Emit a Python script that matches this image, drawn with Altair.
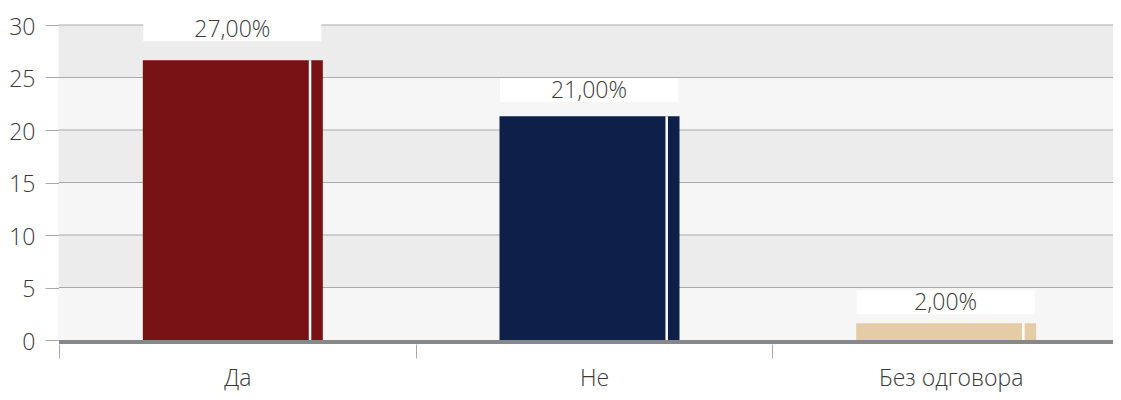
import altair as alt
import pandas as pd

categories = ["Да", "Не", "Без одговора"]
bar_values = [26.65, 21.3, 1.6]
label_texts = ["27,00%", "21,00%", "2,00%"]
label_pos = [29.6, 23.8, 3.6]
bar_colors = ["#781214", "#0e1f4a", "#e4cca6"]
y_ticks = [0, 5, 10, 15, 20, 25, 30]
band_starts = [0, 5, 10, 15, 20, 25]
band_fills = ["#f6f6f6", "#ececec", "#f6f6f6", "#ececec", "#f6f6f6", "#ececec"]

W = 1054
XR = 1070
H = 315
FONT = "Open Sans"
TXT = "#3a3a3a"
GRID = "#a9a9a9"
FS = 23

df = pd.DataFrame({"cat": categories, "v": bar_values, "lab": label_texts, "lp": label_pos})
bands = pd.DataFrame({"y0": band_starts, "y1": [b + 5 for b in band_starts], "fill": band_fills})
grid = pd.DataFrame({"t": y_ticks[1:]})

yscale = alt.Scale(domain=[0, 30], nice=False, zero=True)
yaxis = alt.Axis(values=y_ticks, title=None, grid=False, labelFontSize=FS, labelFont=FONT,
                 labelFontWeight=300, labelColor=TXT, tickColor=GRID, tickSize=14,
                 domainColor="#bdbdbd", domainWidth=1.2, labelPadding=10, labelOffset=2)
xscale = alt.Scale(domain=categories, range=[0, XR], paddingInner=0, paddingOuter=0)
xaxis = alt.Axis(title=None, labelAngle=0, tickBand="extent", tickSize=14, offset=4,
                 domain=False, tickColor=GRID, labelFontSize=FS, labelFont=FONT,
                 labelFontWeight=300, labelColor=TXT, labelPadding=27,
                 labelBaseline="alphabetic")

background = alt.Chart(bands).mark_rect().encode(
    y=alt.Y("y0:Q", scale=yscale, axis=yaxis),
    y2="y1:Q",
    x=alt.value(0), x2=alt.value(W),
    fill=alt.Fill("fill:N", scale=None),
)

gridlines = alt.Chart(grid).mark_rule(color=GRID, strokeWidth=1).encode(
    y=alt.Y("t:Q", scale=yscale, axis=yaxis),
    x=alt.value(0), x2=alt.value(W),
)

bars = alt.Chart(df).mark_bar(width=180, xOffset=-4.5).encode(
    x=alt.X("cat:N", sort=categories, scale=xscale, axis=xaxis),
    y=alt.Y("v:Q", scale=yscale, axis=yaxis),
    color=alt.Color("cat:N", scale=alt.Scale(domain=categories, range=bar_colors), legend=None),
)

whiteline = alt.Chart(df).mark_rule(color="white", strokeWidth=2.5, xOffset=72.7).encode(
    x=alt.X("cat:N", sort=categories, scale=xscale, axis=xaxis),
    y=alt.Y("v:Q", scale=yscale, axis=yaxis),
    y2=alt.datum(0),
)

boxes = alt.Chart(df).mark_bar(width=178, color="white", xOffset=-5, yOffset=12, y2Offset=-12).encode(
    x=alt.X("cat:N", sort=categories, scale=xscale, axis=xaxis),
    y=alt.Y("lp:Q", scale=yscale, axis=yaxis),
    y2="lp:Q",
)

labels = alt.Chart(df).mark_text(fontSize=FS, font=FONT, fontWeight=300, color=TXT,
                                 baseline="middle", xOffset=-5, dy=1).encode(
    x=alt.X("cat:N", sort=categories, scale=xscale, axis=xaxis),
    y=alt.Y("lp:Q", scale=yscale, axis=yaxis),
    text="lab:N",
)

zero = alt.Chart(df).mark_rule(color="#87888b", strokeWidth=4, yOffset=2).encode(
    y=alt.datum(0), x=alt.value(0), x2=alt.value(W),
)

chart = alt.layer(background, gridlines, bars, whiteline, boxes, labels, zero).properties(
    width=W, height=H,
    autosize=alt.AutoSizeParams(type="none"),
    padding={"left": 51, "top": 17, "right": 0, "bottom": 52},
).configure_view(stroke=None)

chart.save("out.html", embed_options={"renderer": "svg", "actions": False})
